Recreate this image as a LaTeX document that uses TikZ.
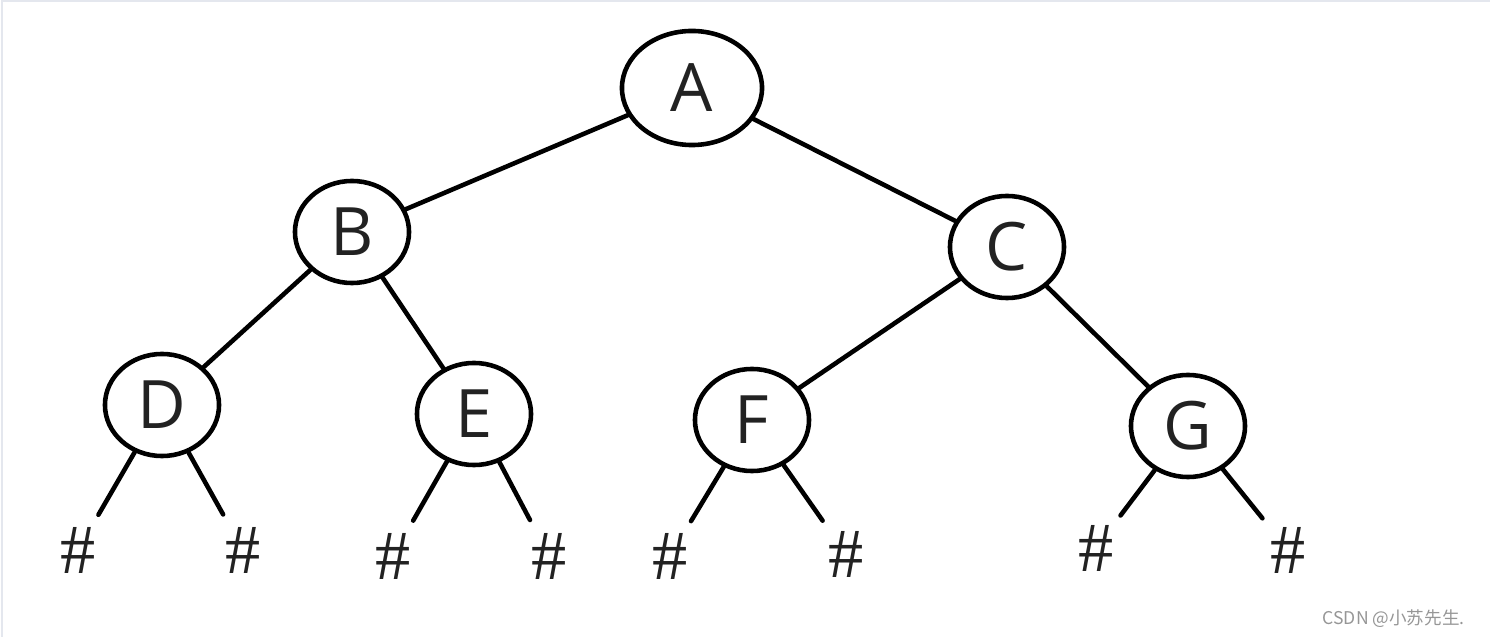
\documentclass[tikz,border=0pt]{standalone}
\usepackage{fontspec}
\setmainfont{Open Sans}
\newfontfamily\hashfont{Liberation Serif}
\newfontfamily\cjk{Noto Sans CJK SC}
\usetikzlibrary{arrows.meta, shapes.geometric, positioning}
\definecolor{letter_gray}{RGB}{34,34,34}
\definecolor{mark_gray}{RGB}{150,150,150}
\definecolor{frame_gray}{RGB}{228,231,238}

\begin{document}
\begin{tikzpicture}[x=0.01cm, y=-0.01cm,
    every node/.style={font=\fontsize{19}{22}\selectfont, text=letter_gray},
    tnode/.style={ellipse, draw=black, line width=1.3pt, minimum width=1.14cm, minimum height=1.02cm, inner sep=0pt},
    hnode/.style={circle, minimum size=0.8cm, inner sep=0pt, font=\hashfont\fontsize{20}{22}\selectfont},
    edge/.style={line width=1.3pt, line cap=round}]
      \useasboundingbox (0,0) rectangle (1490,637);
      \draw[frame_gray, line width=0.6pt] (2,637) -- (2,1) -- (1490,1);
      \node[tnode, minimum width=1.4cm, minimum height=1.14cm] (A) at (692,88) {A};
      \node[tnode] (B) at (352,232) {B};
      \node[tnode] (C) at (1007,247) {C};
      \node[tnode] (D) at (162,405) {D};
      \node[tnode] (E) at (474,414) {E};
      \node[tnode] (F) at (752,420) {F};
      \node[tnode] (G) at (1188,426) {G};
      \node[hnode] (D1) at (78,550) {\#};
      \node[hnode] (D2) at (243,550) {\#};
      \node[hnode] (E1) at (393,556) {\#};
      \node[hnode] (E2) at (549,556) {\#};
      \node[hnode] (F1) at (670,556) {\#};
      \node[hnode] (F2) at (846,554) {\#};
      \node[hnode] (G1) at (1096,548) {\#};
      \node[hnode] (G2) at (1288,550) {\#};
      \draw[edge] (A) -- (B);
      \draw[edge] (A) -- (C);
      \draw[edge] (B) -- (D);
      \draw[edge] (B) -- (E);
      \draw[edge] (C) -- (F);
      \draw[edge] (C) -- (G);
      \draw[edge] (D) -- (D1);
      \draw[edge] (D) -- (D2);
      \draw[edge] (E) -- (E1);
      \draw[edge] (E) -- (E2);
      \draw[edge] (F) -- (F1);
      \draw[edge] (F) -- (F2);
      \draw[edge] (G) -- (G1);
      \draw[edge] (G) -- (G2);
      % watermark
      \node[font=\cjk\fontsize{5}{6}\selectfont, text=mark_gray, anchor=east] (mark) at (1477,619) {CSDN @小苏先生.};
    \end{tikzpicture}
\end{document}
